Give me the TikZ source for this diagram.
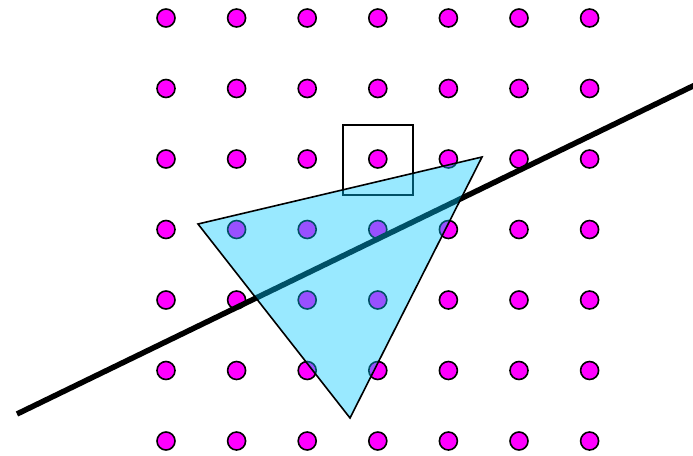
\documentclass[tikz,border=0pt]{standalone}
\usepackage{tikz}
\usetikzlibrary{calc}
\definecolor{dotpink}{HTML}{FF00FF}
\definecolor{trifill}{HTML}{00C8FF}

\begin{document}
\begin{tikzpicture}[x=1pt,y=-1pt,
    gridpt/.style={circle,draw=black,fill=dotpink,line width=1.6pt,minimum size=18pt,inner sep=0pt}]
  \useasboundingbox (0,0) rectangle (693,455);
  % lattice of sample points
  \foreach \i in {0,...,6}{
    \foreach \j in {0,...,6}{
      \node[gridpt] (p\i\j) at ({166+70.6*\i},{18+70.5*\j}) {};
    }
  }
  % pixel box
  \draw[line width=1.5pt] (343,125) rectangle (413,195);
  % edge line
  \coordinate (la) at (17,414);
  \coordinate (lb) at (694,85.5);
  \draw[line width=5.5pt] (la) -- (lb);
  % triangle
  \coordinate (ta) at (198,224);
  \coordinate (tb) at (482,157);
  \coordinate (tc) at (350,418);
  \fill[trifill,fill opacity=0.4] (ta) -- (tb) -- (tc) -- cycle;
  \draw[line width=1.6pt,line join=miter] (ta) -- (tb) -- (tc) -- cycle;
\end{tikzpicture}
\end{document}
